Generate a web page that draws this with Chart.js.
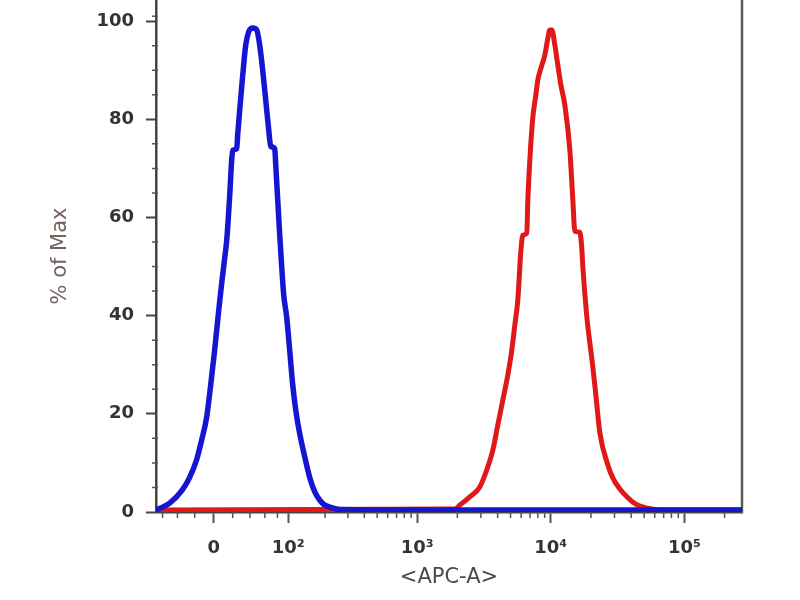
<!DOCTYPE html>
<html>
<head>
<meta charset="utf-8">
<script src="https://cdn.jsdelivr.net/npm/chart.js@4/dist/chart.umd.min.js"></script>
<style>
  html, body { margin: 0; padding: 0; background: #fff; }
  #wrap { width: 800px; height: 600px; position: relative; }
</style>
</head>
<body>
<div id="wrap"><canvas id="myChart"></canvas></div>
<script>
// fluorescence (APC-A) values and % of max for each histogram
const blueX = [-70, -60, -50, -34, -26, -18, -12.5, -7.3, -3.1, 1.0, 5.2, 8.3, 11.4, 13.6, 16.8, 18.9, 20.0, 24.4, 25.5, 27.8,
  31.3, 34.8, 38.4, 43.5, 48.7, 52.7, 56.9, 61.3, 65.8, 68.9, 75.4, 77.1, 80.5, 84.0, 87.6, 91.3, 97, 103, 109, 116,
  125, 138, 151, 166, 182, 199, 218, 260, 1000, 270000];
const blueY = [0.4, 1.0, 1.8, 4.5, 6.9, 10.6, 14.7, 19.3, 25.9, 33.0, 41.1, 46.6, 51.7, 55.4, 64.6, 71.7, 73.7, 74.0, 76.8, 81.9,
  89.0, 95.1, 97.8, 98.6, 98.2, 95.1, 90.0, 83.9, 77.8, 74.5, 74.0, 70.7, 63.5, 56.4, 49.9, 44.2, 39.7, 33.0, 26.3, 20.8,
  16.1, 11.2, 7.1, 4.1, 2.4, 1.4, 1.0, 0.5, 0.4, 0.4];

const redX = [-70, 1913, 2085, 2478, 2943, 3321, 3684, 4014, 4377, 4770, 5112, 5382, 5667, 5967, 6177, 6618, 6735, 6972,
  7341, 7731, 8001, 8574, 9030, 9510, 9843, 10191, 10731, 11301, 11901, 12750, 13899, 14634, 15147, 16512, 17091, 17388,
  18627, 19617, 20658, 21756, 23310, 26310, 29178, 32898, 37128, 41175, 46464, 52425, 65580, 270000];
const redY = [0.4, 0.6, 1.4, 3.1, 5.1, 8.6, 12.6, 17.7, 22.8, 27.9, 33.0, 38.1, 43.2, 53.0, 56.4, 56.8, 63.5, 71.7,
  80.4, 84.9, 88.0, 91.0, 93.1, 96.5, 98.2, 98.2, 95.1, 91.0, 87.0, 82.9, 73.7, 63.5, 57.2, 57.0, 53.5, 49.9,
  39.7, 34.4, 29.5, 23.8, 16.1, 10.2, 6.9, 4.7, 3.1, 2.0, 1.2, 0.8, 0.4, 0.4];

const xTickValues = [0, 100, 1000, 10000, 100000];
const xTickLabels = ['0', '10²', '10³', '10⁴', '10⁵'];
const xMinorTicks = [-60, -40, -20, 20, 40, 60, 80,
  200, 300, 400, 500, 600, 700, 800, 900,
  2000, 3000, 4000, 5000, 6000, 7000, 8000, 9000,
  20000, 30000, 40000, 50000, 60000, 70000, 80000, 90000, 200000];
const yTickValues = [0, 20, 40, 60, 80, 100];
const yMinorTicks = [5, 10, 15, 25, 30, 35, 45, 50, 55, 65, 70, 75, 85, 90, 95, 101];

// biexponential-like display (arcsinh)
const COF = 60;
const tf = v => Math.asinh(v / COF);
const tfInv = t => COF * Math.sinh(t);

class AsinhScale extends Chart.LinearScale {
  buildTicks() { return xTickValues.map(v => ({ value: v })); }
  configure() {
    super.configure();
    this._tMin = tf(this.min);
    this._tRange = tf(this.max) - this._tMin;
  }
  getPixelForValue(value) {
    return this.getPixelForDecimal((tf(value) - this._tMin) / this._tRange);
  }
  getValueForPixel(pixel) {
    return tfInv(this._tMin + this.getDecimalForPixel(pixel) * this._tRange);
  }
}
AsinhScale.id = 'asinh';
AsinhScale.defaults = {};
Chart.register(AsinhScale);

const minorTicks = {
  id: 'minorTicks',
  beforeDatasetsDraw(chart) {
    const { ctx, chartArea: a, scales: { x, y } } = chart;
    ctx.save();
    ctx.strokeStyle = '#555';
    ctx.lineWidth = 1.5;
    ctx.beginPath();
    xMinorTicks.forEach(v => {
      const px = x.getPixelForValue(v);
      ctx.moveTo(px, a.bottom); ctx.lineTo(px, a.bottom + 6);
    });
    yMinorTicks.forEach(v => {
      const py = y.getPixelForValue(v);
      ctx.moveTo(a.left - 4, py); ctx.lineTo(a.left + 2, py);
    });
    ctx.stroke();
    // right frame
    ctx.strokeStyle = '#5a5a5a';
    ctx.lineWidth = 2.5;
    ctx.beginPath();
    ctx.moveTo(a.right, a.top); ctx.lineTo(a.right, a.bottom + 1);
    ctx.stroke();
    ctx.restore();
  }
};

const noPad = s => { s.paddingTop = 0; s.paddingBottom = 0; s.paddingLeft = 0; s.paddingRight = 0; };

const toPts = (xs, ys) => xs.map((x, i) => ({ x, y: ys[i] }));

const ctx = document.getElementById('myChart');
const myChart = new Chart(ctx, {
  type: 'line',
  data: {
    datasets: [
      { label: 'isotype', data: toPts(blueX, blueY), borderColor: '#1616d2', borderWidth: 5.5 },
      { label: 'APC', data: toPts(redX, redY), borderColor: '#e01818', borderWidth: 5 }
    ]
  },
  plugins: [minorTicks],
  options: {
    responsive: true,
    maintainAspectRatio: false,
    animation: false,
    layout: { padding: { left: 0, right: 58, top: 0, bottom: 0 } },
    elements: {
      point: { radius: 0 },
      line: { cubicInterpolationMode: 'monotone', fill: false, borderCapStyle: 'round', borderJoinStyle: 'round' }
    },
    plugins: { legend: { display: false }, tooltip: { enabled: false } },
    scales: {
      x: {
        type: 'asinh',
        min: -70,
        max: 270000,
        afterFit: s => { s.height = 88; noPad(s); },
        grid: { drawOnChartArea: false, tickLength: 11, tickWidth: 2, tickColor: '#555' },
        border: { display: true, color: '#444', width: 2.5 },
        ticks: {
          autoSkip: false, maxRotation: 0, padding: 15, color: '#333',
          font: { family: 'DejaVu Sans', size: 18, weight: 'bold' },
          callback: (v, i) => xTickLabels[i]
        },
        title: {
          display: true, text: '<APC-A>', color: '#4a4a4a',
          font: { family: 'DejaVu Sans', size: 21 },
          padding: { top: 0, bottom: 10 }
        }
      },
      y: {
        min: 0,
        max: 104.3,
        afterFit: s => { s.width = 156; noPad(s); },
        afterBuildTicks: s => { s.ticks = yTickValues.map(v => ({ value: v })); },
        grid: { drawOnChartArea: false, tickLength: 10, tickWidth: 2, tickColor: '#444' },
        border: { display: true, color: '#444', width: 2.5 },
        ticks: {
          padding: 12, color: '#333',
          font: { family: 'DejaVu Sans', size: 18, weight: 'bold' }
        },
        title: {
          display: true, text: '% of Max', color: '#75625e',
          font: { family: 'DejaVu Sans', size: 21 },
          padding: { top: 48, bottom: 0 }
        }
      }
    }
  }
});
</script>
</body>
</html>
